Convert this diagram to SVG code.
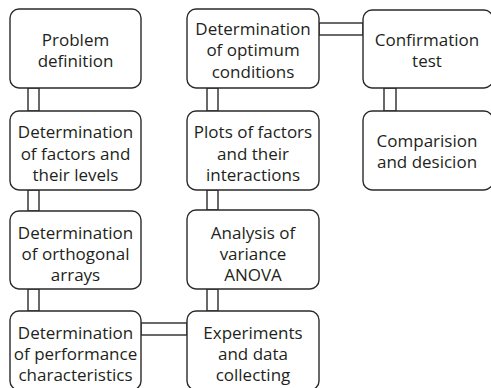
<svg xmlns="http://www.w3.org/2000/svg" width="491" height="388" viewBox="0 0 491 388">
<style>
.box{fill:#fff;stroke:#2a2a2a;stroke-width:1.4}
.con{fill:#fff;stroke:#2a2a2a;stroke-width:1.4}
text{font-family:"Open Sans","Noto Sans",sans-serif;font-size:17px;fill:#231f20;text-anchor:middle}
</style>
<rect width="491" height="388" fill="#fff"/>
<g id="connectors">
<rect class="con" x="28" y="88" width="11" height="23"/>
<rect class="con" x="28" y="190" width="11" height="21"/>
<rect class="con" x="28" y="289" width="11" height="22"/>
<rect class="con" x="141" y="323" width="46" height="12"/>
<rect class="con" x="207" y="289" width="11" height="22"/>
<rect class="con" x="207" y="190" width="11" height="20"/>
<rect class="con" x="207" y="88" width="11" height="23"/>
<rect class="con" x="319" y="23" width="44" height="12"/>
<rect class="con" x="384" y="88" width="12" height="23"/>
</g>
<g id="n1"><rect class="box" x="10" y="9" width="131" height="79" rx="9"/>
<text x="75.5" y="46">Problem</text><text x="75.5" y="67">definition</text></g>
<g id="n2"><rect class="box" x="10" y="111" width="131" height="79" rx="9"/>
<text x="75.5" y="138">Determination</text><text x="75.5" y="159.5">of factors and</text><text x="75.5" y="181">their levels</text></g>
<g id="n3"><rect class="box" x="10" y="211" width="131" height="78" rx="9"/>
<text x="75.5" y="238.5">Determination</text><text x="75.5" y="259.5">of orthogonal</text><text x="75.5" y="280.5">arrays</text></g>
<g id="n4"><rect class="box" x="10" y="311" width="131" height="79" rx="9"/>
<text x="75.5" y="338.5">Determination</text><text x="75.5" y="359.5">of performance</text><text x="75.5" y="380.5">characteristics</text></g>
<g id="n5"><rect class="box" x="187" y="311" width="132" height="79" rx="9"/>
<text x="253" y="338.5">Experiments</text><text x="253" y="359.5">and data</text><text x="253" y="380.5">collecting</text></g>
<g id="n6"><rect class="box" x="187" y="210" width="132" height="79" rx="9"/>
<text x="253" y="238.5">Analysis of</text><text x="253" y="259.5">variance</text><text x="253" y="280.5">ANOVA</text></g>
<g id="n7"><rect class="box" x="187" y="111" width="132" height="79" rx="9"/>
<text x="253" y="138">Plots of factors</text><text x="253" y="159.5">and their</text><text x="253" y="181">interactions</text></g>
<g id="n8"><rect class="box" x="187" y="9" width="132" height="79" rx="9"/>
<text x="253" y="34.5">Determination</text><text x="253" y="56">of optimum</text><text x="253" y="77.5">conditions</text></g>
<g id="n9"><rect class="box" x="363" y="10" width="130" height="78" rx="9"/>
<text x="427" y="45.5">Confirmation</text><text x="427" y="66.5">test</text></g>
<g id="n10"><rect class="box" x="363" y="111" width="130" height="79" rx="9"/>
<text x="427" y="147">Comparision</text><text x="427" y="168">and desicion</text></g>
</svg>
